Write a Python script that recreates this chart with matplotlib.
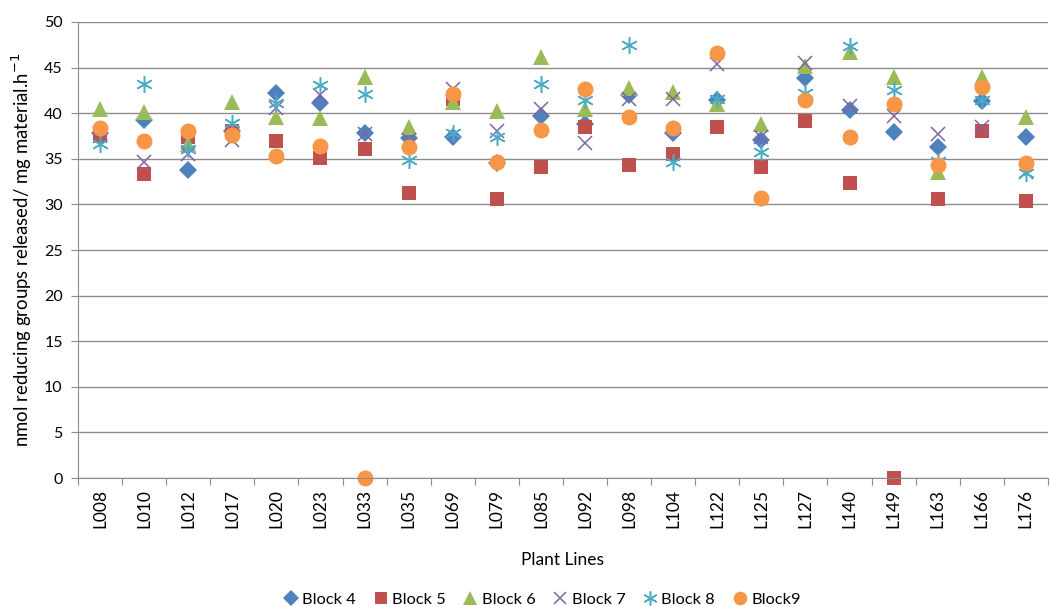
import matplotlib
matplotlib.use("Agg")
import matplotlib.pyplot as plt
import numpy as np

plt.rcParams['font.family'] = ['Lato', 'DejaVu Sans']

lines = ["L008", "L010", "L012", "L017", "L020", "L023", "L033", "L035", "L069", "L079", "L085",
         "L092", "L098", "L104", "L122", "L125", "L127", "L140", "L149", "L163", "L166", "L176"]

block4 = [37.8, 39.3, 33.8, 38.0, 42.2, 41.1, 37.8, 37.3, 37.4, 34.5, 39.7,
          38.8, 42.0, 37.8, 41.5, 37.1, 43.9, 40.3, 37.9, 36.3, 41.3, 37.4]
block5 = [37.5, 33.3, 37.4, 38.1, 37.0, 35.1, 36.1, 31.3, 41.6, 30.6, 34.1,
          38.5, 34.3, 35.5, 38.5, 34.1, 39.1, 32.4, 0.0, 30.6, 38.1, 30.4]
block6 = [40.5, 40.1, 36.6, 41.2, 39.6, 39.5, 44.0, 38.5, 41.2, 40.2, 46.2,
          40.5, 42.8, 42.3, 41.0, 38.8, 45.2, 46.7, 44.0, 33.6, 44.0, 39.6]
block7 = [37.8, 34.6, 35.5, 37.1, 40.6, 42.0, 37.7, 37.1, 42.7, 38.1, 40.5,
          36.7, 41.6, 41.6, 45.4, 37.4, 45.5, 40.8, 39.7, 37.7, 38.5, 33.5]
block8 = [36.6, 43.2, 36.1, 38.9, 41.1, 43.1, 42.1, 34.9, 37.8, 37.4, 43.2,
          41.5, 47.5, 34.7, 41.6, 35.7, 42.2, 47.4, 42.5, 34.8, 41.4, 33.4]
block9 = [38.4, 36.9, 38.1, 37.6, 35.3, 36.4, 0.0, 36.3, 42.1, 34.6, 38.2,
          42.7, 39.6, 38.4, 46.6, 30.7, 41.5, 37.4, 41.0, 34.3, 42.9, 34.5]

series = [
    ("Block 4", block4, dict(marker="D", color="#4F81BD", markersize=9.5, markeredgewidth=0)),
    ("Block 5", block5, dict(marker="s", color="#C0504D", markersize=10.5, markeredgewidth=0)),
    ("Block 6", block6, dict(marker="^", color="#9BBB59", markersize=11.5, markeredgewidth=0)),
    ("Block 7", block7, dict(marker="x", color="#8064A2", markersize=10, markeredgewidth=1.1)),
    ("Block 8", block8, dict(marker=(6, 2, 0), color="#4BACC6", markersize=12, markeredgewidth=1.1)),
    ("Block9", block9, dict(marker="o", color="#F79646", markersize=11.5, markeredgewidth=0)),
]

fig = plt.figure(figsize=(10.5, 6.06), dpi=100)
ax = fig.add_axes([0.0743, 0.2112, 0.9237, 0.7525])

x = np.arange(len(lines))
for name, vals, style in series:
    ax.plot(x, vals, linestyle="none", label=name, clip_on=False, **style)

ax.set_xlim(-0.5, len(lines) - 0.5)
ax.set_ylim(0, 50)
ax.set_yticks(np.arange(0, 51, 5))
ax.yaxis.grid(True, color="#8C8C8C", linewidth=1.0)
ax.set_axisbelow(True)

# category boundaries carry the tick marks, centres carry the labels
ax.set_xticks(np.arange(-0.5, len(lines) + 0.5, 1.0))
ax.set_xticklabels([])
ax.set_xticks(x, minor=True)
ax.set_xticklabels(lines, minor=True, rotation=90, fontsize=12.5)
ax.tick_params(axis="x", which="major", length=5, color="#8C8C8C", direction="out")
ax.tick_params(axis="x", which="minor", length=0, pad=8)
ax.tick_params(axis="y", length=5, color="#8C8C8C", labelsize=11.5, pad=6)

for side in ("top", "right"):
    ax.spines[side].set_visible(False)
for side in ("left", "bottom"):
    ax.spines[side].set_color("#8C8C8C")

ax.set_ylabel(r"nmol reducing groups released/ mg material.h$^{-1}$", fontsize=13.4, labelpad=7)
ax.set_xlabel("Plant Lines", fontsize=12.5, labelpad=17)

fig.legend(loc="center", bbox_to_anchor=(0.515, 0.01), ncol=6, frameon=False,
           fontsize=11.8, handletextpad=0.1, columnspacing=0.9, handlelength=1.2,
           markerscale=0.85)

fig.savefig("out.png", dpi=100)
